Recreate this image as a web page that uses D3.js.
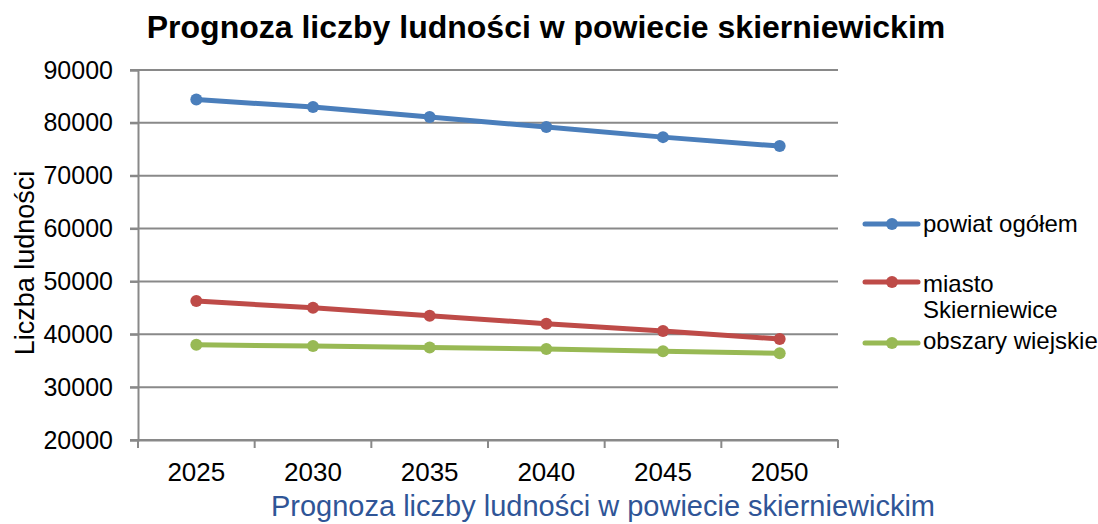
<!DOCTYPE html>
<html><head><meta charset="utf-8">
<script src="https://cdnjs.cloudflare.com/ajax/libs/d3/7.8.5/d3.min.js"></script>
<style>body{margin:0;background:#fff}svg{display:block;font-family:"Liberation Sans",Arial,sans-serif}</style>
</head><body><svg id="c" width="1098" height="524"></svg>
<script>
const categories = ["2025","2030","2035","2040","2045","2050"];
const powiat = [84400, 83000, 81100, 79200, 77300, 75600];
const miasto = [46300, 45000, 43500, 42000, 40600, 39100];
const wies = [38000, 37800, 37500, 37200, 36800, 36400];
const yTicks = [20000,30000,40000,50000,60000,70000,80000,90000];
const seriesNames = ["powiat ogółem", "miasto Skierniewice", "obszary wiejskie"];
const colors = ["#4A7EBB", "#BE4B48", "#98B954"];
const seriesData = [powiat, miasto, wies];

const svg = d3.select("#c");
const x = d3.scaleBand().domain(categories).range([138, 838]);
const y = d3.scaleLinear().domain([20000, 90000]).range([440, 70]);

// gridlines
svg.append("g").selectAll("line").data(yTicks).join("line")
  .attr("x1", 130).attr("x2", 838).attr("y1", d=>y(d)).attr("y2", d=>y(d))
  .attr("stroke", "#898989").attr("stroke-width", 2);

// y axis
const ya = svg.append("g").attr("transform","translate(138,0)")
  .call(d3.axisLeft(y).tickValues(yTicks).tickSize(8).tickPadding(17).tickFormat(d3.format("d")));
ya.select(".domain").attr("stroke","#898989").attr("stroke-width",2);
ya.selectAll(".tick line").attr("stroke","#898989").attr("stroke-width",2);
ya.selectAll("text").attr("font-size",25).attr("fill","#000").attr("font-family","Liberation Sans, Arial, sans-serif");

// x axis
const xa = svg.append("g").attr("transform","translate(0,440)")
  .call(d3.axisBottom(x).tickSize(0).tickPadding(23));
xa.select(".domain").attr("stroke","#898989").attr("stroke-width",2);
xa.selectAll("text").attr("font-size",26).attr("fill","#000").attr("font-family","Liberation Sans, Arial, sans-serif");
const bounds = categories.map(c=>x(c)).concat([838]);
svg.append("g").selectAll("line").data(bounds).join("line")
  .attr("x1",d=>d).attr("x2",d=>d).attr("y1",440).attr("y2",448)
  .attr("stroke","#898989").attr("stroke-width",2);

// lines
const line = d3.line().x((d,i)=>x(categories[i])+x.bandwidth()/2).y(d=>y(d));
seriesData.forEach((s,k)=>{
  svg.append("path").datum(s).attr("d", line).attr("fill","none")
    .attr("stroke", colors[k]).attr("stroke-width",5).attr("stroke-linejoin","round").attr("stroke-linecap","round");
  svg.append("g").selectAll("circle").data(s).join("circle")
    .attr("cx",(d,i)=>x(categories[i])+x.bandwidth()/2).attr("cy",d=>y(d)).attr("r",6)
    .attr("fill",colors[k]);
});

// title
svg.append("text").attr("x",546).attr("y",38).attr("text-anchor","middle")
  .attr("font-size",32).attr("font-weight","bold").text("Prognoza liczby ludności w powiecie skierniewickim");
// y title
svg.append("text").attr("transform","translate(34,263) rotate(-90)").attr("text-anchor","middle")
  .attr("font-size",27).text("Liczba ludności");
// x title
svg.append("text").attr("x",603).attr("y",516).attr("text-anchor","middle")
  .attr("font-size",29).attr("fill","#2F5597").text("Prognoza liczby ludności w powiecie skierniewickim");

// legend
const legY = [224, 282, 343];
const lg = svg.append("g");
seriesNames.forEach((n,k)=>{
  lg.append("line").attr("x1",865).attr("x2",918).attr("y1",legY[k]).attr("y2",legY[k])
    .attr("stroke",colors[k]).attr("stroke-width",5).attr("stroke-linecap","round");
  lg.append("circle").attr("cx",892).attr("cy",legY[k]).attr("r",6).attr("fill",colors[k]);
});
lg.append("text").attr("x",923).attr("y",232).attr("font-size",24).text(seriesNames[0]);
lg.append("text").attr("x",923).attr("y",292).attr("font-size",24).text("miasto");
lg.append("text").attr("x",923).attr("y",318).attr("font-size",24).text("Skierniewice");
lg.append("text").attr("x",923).attr("y",349).attr("font-size",24).text(seriesNames[2]);
</script></body></html>
